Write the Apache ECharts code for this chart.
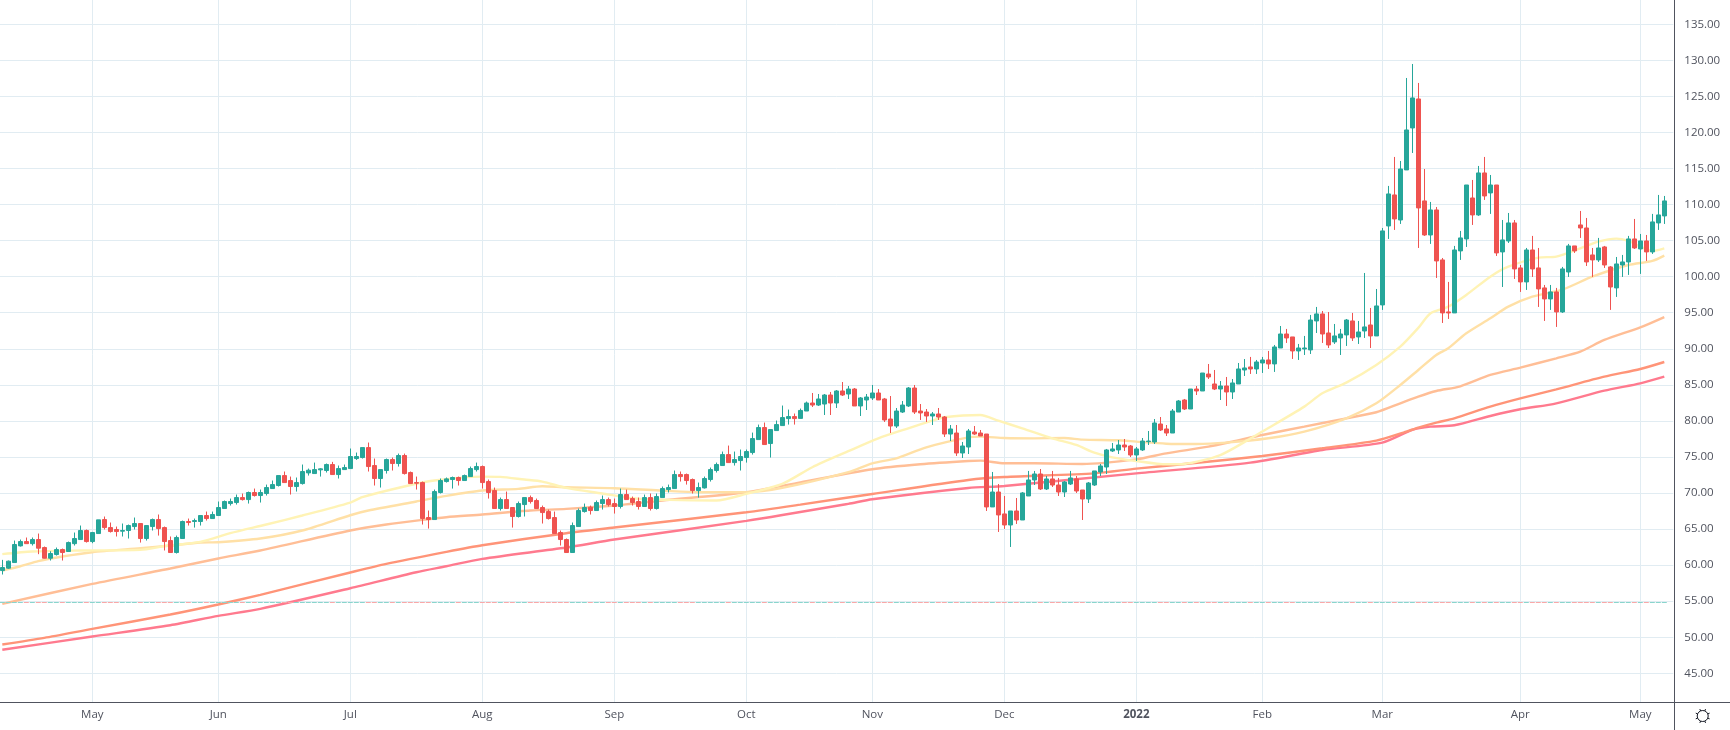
<!DOCTYPE html>
<html><head><meta charset="utf-8">
<style>html,body{margin:0;padding:0;background:#fff;overflow:hidden}#c{position:absolute;left:-6px;top:0;width:1736px;height:730px}</style>
<script src="https://cdn.jsdelivr.net/npm/echarts@6/dist/echarts.min.js"></script>
</head><body><div id="c"></div>
<script>
const opens=[
59.25,59.58,60.36,62.67,63.27,62.98,63.55,62.44,60.96,61.47,
62.16,61.89,62.98,63.55,64.80,63.27,64.38,66.32,65.21,64.94,
64.71,64.80,65.35,65.77,63.69,65.35,66.32,65.21,63.41,61.75,
63.69,66.05,66.05,66.05,66.88,66.46,66.88,67.85,68.54,68.68,
69.37,69.09,70.07,69.65,69.93,70.62,71.04,72.42,71.73,70.90,
71.31,72.79,72.70,73.21,73.12,73.95,72.56,73.25,73.39,74.78,
74.92,76.30,73.81,72.01,73.12,74.64,74.09,75.20,72.84,71.45,
71.45,66.60,66.32,70.07,71.59,71.87,72.15,71.73,72.28,73.25,
73.67,71.59,70.34,67.85,69.09,67.99,66.74,68.40,69.37,68.96,
67.99,67.43,66.60,64.52,63.55,61.75,65.35,67.43,68.03,67.57,
68.54,69.09,68.54,68.13,69.79,69.23,68.82,68.13,69.37,67.85,
69.37,70.48,70.62,72.56,72.56,71.87,70.34,70.71,71.87,73.12,
73.81,75.33,74.22,74.50,74.92,75.61,77.41,79.08,76.86,78.66,
79.35,80.32,80.60,80.35,81.37,82.48,82.20,82.34,83.59,82.48,
84.15,83.73,84.42,82.07,82.90,83.18,83.87,83.04,80.26,79.29,
81.23,82.07,84.56,81.37,81.23,80.68,80.96,80.54,78.18,78.32,
75.55,76.38,78.46,78.32,78.18,68.07,70.14,67.10,65.57,67.51,
66.26,69.59,71.81,72.64,70.56,71.95,71.11,70.14,71.25,71.95,
70.42,69.17,71.11,72.92,73.61,75.83,75.97,76.66,76.52,75.27,
75.97,77.12,77.08,79.57,78.88,78.32,81.23,82.90,81.65,84.42,
84.15,86.50,85.12,84.42,84.84,84.01,85.12,87.06,87.48,87.20,
88.03,88.45,87.90,90.11,92.05,91.64,89.70,89.98,89.84,93.86,
94.83,92.19,90.95,91.50,91.92,93.86,91.64,92.47,93.30,91.78,
96.08,107.03,111.33,107.86,114.80,120.62,124.64,110.50,105.78,109.25,
102.32,95.11,94.97,103.57,105.23,110.91,108.56,114.38,111.61,112.71,
103.43,104.95,107.45,101.21,99.27,103.70,101.21,98.44,96.91,97.88,
95.11,100.65,104.26,107.17,106.75,103.01,102.32,104.12,101.35,98.44,
101.62,102.04,105.23,103.84,104.95,103.43,107.45,108.42];
const closes=[
59.67,60.55,62.86,63.27,62.98,63.55,62.35,60.96,61.61,62.16,
61.75,63.13,63.69,64.80,63.27,64.52,66.28,65.21,64.66,64.66,
64.80,65.49,65.77,63.69,65.49,66.32,65.07,63.27,61.75,63.83,
66.05,65.91,66.18,66.88,66.46,67.02,67.99,68.82,68.82,69.37,
69.09,70.07,69.65,70.07,70.76,71.17,72.42,71.45,70.90,71.45,
72.98,73.16,73.25,73.35,73.95,72.56,73.39,73.53,75.06,75.06,
76.30,73.67,72.01,73.25,74.64,74.09,75.20,72.70,71.31,71.36,
66.46,66.32,70.20,71.73,71.96,72.15,71.73,72.42,73.39,73.67,
71.45,70.07,67.85,69.09,67.85,66.74,68.54,69.37,68.82,67.85,
67.29,66.46,64.38,63.55,61.75,65.49,67.57,67.99,67.57,68.68,
69.09,68.40,68.13,69.79,69.09,68.68,68.13,69.37,67.85,69.51,
70.62,70.76,72.56,72.28,71.73,70.34,70.76,72.01,73.25,73.95,
75.33,74.22,74.64,75.06,75.75,77.55,79.08,76.72,78.80,79.49,
80.46,80.60,80.32,81.45,82.48,82.20,83.04,83.59,82.48,84.15,
83.59,84.42,82.07,83.18,83.31,83.87,82.90,80.13,79.29,81.37,
82.20,84.56,81.23,81.10,80.68,80.96,80.54,78.18,78.88,75.55,
76.52,78.60,78.18,77.91,68.07,70.14,66.96,65.57,67.51,66.26,
70.01,71.81,72.64,70.56,71.95,71.11,70.14,71.53,72.09,70.28,
69.17,71.39,73.06,73.75,75.97,76.11,76.66,76.38,75.27,76.11,
77.21,77.21,79.71,78.74,78.32,81.37,82.76,81.65,84.42,84.15,
86.64,86.09,84.42,84.84,84.01,85.26,87.20,87.34,87.20,88.17,
88.45,87.90,90.25,92.05,91.50,89.70,90.11,90.11,93.99,94.83,
92.05,90.53,91.78,92.05,93.99,91.50,92.33,93.03,91.78,95.94,
106.34,111.47,108.00,114.93,120.34,124.78,109.53,105.78,109.25,102.18,
94.97,94.97,103.70,105.37,112.71,108.56,114.38,111.19,112.71,103.29,
105.09,107.45,101.07,99.27,103.70,101.07,98.30,96.91,97.88,95.11,
101.07,104.26,103.57,106.75,102.04,102.32,103.98,101.62,98.57,101.76,
102.04,105.23,103.98,104.95,103.43,107.59,108.56,110.50];
const lows=[
58.70,59.48,60.36,62.58,62.95,62.72,61.52,60.92,60.64,61.33,
60.64,61.89,62.72,63.55,63.13,63.04,64.38,64.94,64.52,63.97,
63.97,63.69,64.94,63.13,63.41,64.80,64.10,62.03,61.75,61.61,
63.69,65.49,65.21,65.49,66.18,66.46,66.88,67.85,68.26,68.40,
68.96,68.54,69.51,68.68,69.65,70.62,70.90,71.45,69.79,70.20,
71.17,72.42,72.70,72.28,72.84,72.56,72.01,73.21,73.39,74.59,
74.78,72.98,71.04,70.76,72.70,73.12,73.67,72.56,71.31,70.48,
65.63,65.07,66.32,69.93,71.45,70.62,71.04,71.73,72.28,72.98,
70.62,69.23,67.85,67.57,67.85,65.21,66.60,66.74,68.54,67.85,
65.77,66.32,64.38,62.72,61.75,61.75,65.35,67.29,67.02,67.57,
67.71,68.13,67.15,67.85,69.09,68.26,67.71,68.13,67.57,67.71,
69.37,70.07,70.62,71.59,71.17,69.93,69.37,70.62,71.59,72.84,
73.81,74.22,73.81,73.12,74.22,75.33,77.41,76.72,74.92,78.66,
79.35,79.49,79.49,80.35,81.37,81.93,82.07,80.82,80.82,81.79,
83.45,83.04,82.07,80.68,81.51,82.90,82.90,79.85,78.32,79.02,
81.10,81.93,80.96,80.13,79.85,79.43,80.13,77.77,77.21,75.14,
74.86,75.41,78.05,77.91,67.51,68.07,64.60,65.02,62.52,65.71,
66.26,69.59,71.11,70.42,70.42,70.84,69.59,69.45,71.11,70.01,
66.26,68.62,70.98,72.36,72.64,75.69,75.41,75.83,74.99,74.44,
75.83,76.66,76.80,78.60,77.91,78.32,81.23,81.51,81.65,83.59,
84.15,85.81,84.28,82.90,82.07,83.04,85.12,86.23,86.51,86.51,
86.65,87.20,86.79,90.11,90.81,88.59,88.45,89.14,89.28,92.19,
90.81,90.11,90.67,89.14,90.39,91.08,90.67,91.50,90.11,91.78,
95.39,105.23,106.48,107.31,114.80,117.15,103.98,105.65,104.54,99.82,
93.58,94.14,94.97,102.32,104.12,107.17,108.42,110.64,108.70,102.87,
98.57,104.67,99.68,97.88,98.16,99.96,95.80,93.86,95.39,93.03,
94.97,99.96,103.29,105.37,101.48,99.96,102.04,101.21,95.39,97.19,
99.96,100.24,103.84,100.38,102.18,103.15,106.48,107.31];
const highs=[
60.73,60.64,63.41,63.55,63.83,63.83,64.38,62.58,61.93,62.44,
62.30,63.27,64.52,65.49,64.94,64.61,66.28,66.74,65.91,65.35,
65.77,65.63,66.60,65.77,65.49,66.46,67.02,65.35,63.97,64.10,
66.18,66.46,66.46,66.88,67.43,67.43,68.82,68.96,69.23,69.79,
69.93,70.20,70.62,70.48,71.17,71.73,72.42,72.98,72.28,72.15,
73.95,73.39,74.22,73.44,74.09,74.32,73.81,73.95,76.17,75.61,
76.30,77.00,74.78,73.25,74.78,74.92,75.47,75.47,72.98,72.28,
71.59,67.57,70.48,72.01,72.15,72.28,72.28,72.56,73.67,74.22,
73.81,71.87,70.76,69.37,70.20,67.99,68.82,69.37,69.65,69.23,
68.26,67.71,67.43,64.80,63.69,65.91,67.85,68.54,68.26,68.96,
69.65,69.37,69.23,70.62,70.48,69.51,69.37,69.79,69.93,69.93,
70.90,71.17,73.12,72.98,72.70,72.01,71.45,72.28,73.53,74.22,
75.75,76.58,75.75,76.03,76.03,78.38,79.49,79.77,78.80,80.05,
82.13,81.57,81.02,81.71,82.68,83.87,83.73,83.73,84.01,84.28,
85.39,84.84,84.56,83.31,83.73,84.98,84.42,83.18,83.45,81.79,
82.76,84.70,84.98,82.34,81.65,81.23,81.79,80.68,79.43,79.43,
77.08,78.88,79.29,78.74,78.18,72.92,71.25,69.59,67.51,69.31,
70.14,73.06,73.06,73.33,72.36,73.06,72.09,71.67,73.06,72.36,
70.42,71.53,73.06,74.03,76.11,76.94,77.35,77.49,76.66,76.38,
77.63,78.60,80.26,80.54,79.43,81.65,82.90,83.04,84.42,84.84,
86.64,87.89,87.06,85.53,86.09,85.81,88.03,88.58,88.87,88.45,
88.87,89.70,90.53,93.16,92.75,91.64,90.67,91.78,94.69,95.80,
95.24,95.10,93.44,92.75,94.13,94.97,93.86,100.51,95.66,98.29,
106.75,112.58,116.60,116.04,127.55,129.49,126.86,114.93,110.36,109.66,
102.59,99.27,104.26,106.34,112.71,113.41,115.35,116.60,114.10,112.71,
107.86,108.83,107.86,101.62,103.98,105.65,103.98,98.85,98.85,98.44,
101.35,104.54,104.26,109.11,108.14,103.98,105.37,104.26,101.48,102.73,
103.01,105.65,108.00,105.92,105.78,108.70,111.33,111.19];

// Moving averages at their bends: candle index, value
const ma1Idx=[0,5,13,23,27,33,38,44,50,58,60,67,72,80,83,87,90,94,100,105,111,119,124,130,135,141,146,151,155,157,163,166,170,175,179,182,185,189,194,197,203,208,210,217,220,224,229,233,236,238,241,244,248,251,256,259,263,266,269,271,273,275,277];
const ma1Val=[61.52,61.89,62.03,62.12,62.63,63.23,64.43,65.63,66.88,68.68,69.42,70.9,71.73,72.28,72.24,71.87,71.59,70.71,69.93,69.28,69.05,68.96,69.88,71.27,73.58,75.8,77.58,78.97,80.03,80.5,80.82,80.03,78.97,77.58,76.66,75.6,74.95,74.44,73.98,74.03,75.27,77.54,78.52,81.98,83.83,85.31,87.76,90.3,92.9,94.9,95.85,97.47,100,101.39,102.64,102.78,103.93,104.86,105.27,104.95,104.16,103.56,103.93];
const ma2Idx=[0,3,6,10,15,23,28,33,36,43,50,58,61,69,74,80,86,90,94,102,110,116,124,130,141,145,149,154,161,163,167,172,177,180,186,189,194,199,204,211,217,224,229,233,236,239,241,244,248,251,255,260,265,271,275,277];
const ma2Val=[59.25,59.85,60.55,61.19,61.79,62.35,62.72,63.13,63.18,63.69,64.8,66.92,67.57,68.82,69.6,70.34,70.57,70.94,70.8,70.67,70.34,70.11,70.11,70.71,72.89,74.12,74.81,76.34,77.72,77.82,77.63,77.58,77.63,77.4,77.31,77.12,76.84,76.8,76.99,77.59,78.52,80.36,82.44,84.98,87.06,89.14,90.07,92.15,94.23,95.85,97.23,98.2,100,101.62,102.18,102.92];
const ma3Idx=[0,15,28,36,43,58,64,70,74,80,88,94,102,110,124,133,145,153,161,163,167,172,180,189,194,201,205,210,217,224,229,233,236,239,243,248,253,259,263,267,273,277];
const ma3Val=[54.63,57.4,59.53,60.92,62.03,64.8,65.63,66.28,66.65,67.02,67.57,67.8,68.26,68.96,70.11,71.48,73.29,73.98,74.44,74.49,74.12,74.12,74.03,74.67,75.5,76.43,77.13,78.05,79.2,80.36,81.2,82.44,83.37,84.15,84.8,86.37,87.38,88.68,89.6,91.22,92.97,94.4];
const ma4Idx=[0,7,15,28,36,43,58,64,74,80,94,102,124,133,145,161,167,182,189,200,210,220,229,234,236,239,242,248,253,259,267,273,277];
const ma4Val=[49,49.92,51.17,53.15,54.54,55.88,58.98,60.18,61.84,62.76,64.43,65.21,67.34,68.39,69.87,71.81,72.22,72.73,73.38,74.26,75.14,76.2,77.27,78.52,79.07,79.76,80.36,81.98,83.13,84.38,86.13,87.2,88.17];
const ma5Idx=[0,15,28,36,43,58,69,74,80,94,102,124,141,145,161,167,189,208,220,230,235,238,242,248,253,259,267,273,277];
const ma5Val=[48.26,50.1,51.67,52.97,53.94,56.8,59.02,59.85,60.87,62.44,63.55,66.14,68.5,69.13,70.7,70.98,72.73,74.21,75.97,76.99,78.75,79.2,79.39,80.68,81.61,82.44,84.19,85.21,86.13];
const flatLevel=54.85;

const monthIdx=[15,36,58,80,102,124,145,167,189,210,230,253,273];
const monthNames=['May','Jun','Jul','Aug','Sep','Oct','Nov','Dec','2022','Feb','Mar','Apr','May'];
const bandCount=279;
const categories=Array.from({length:bandCount},(_,i)=>String(i));
const pxPerUnit=7.212;
const yBottom=40, yStep=5, yTop=130+60.3/pxPerUnit;
const TEXT='#50535e', GRID='#e1ecf2', UP='#26a69a', DOWN='#ef5350';
const FONT='"Open Sans", sans-serif', FS=11.5;
const P=6; // the canvas starts 6px left of the page edge

const candleData=opens.map((o,i)=>[o,closes[i],lows[i],highs[i]]);
const pairs=(a,b)=>a.map((k,i)=>[k,b[i]]);
const maLine=(idx,val,color)=>({type:'line',data:pairs(idx,val),showSymbol:false,symbol:'none',smooth:0.25,z:2,
  lineStyle:{color,width:2.4},silent:true,animation:false});

const chart=echarts.init(document.getElementById('c'),null,{renderer:'canvas'});
const iconTicks=[];
for(let a=0;a<8;a++){const t=a*Math.PI/4+Math.PI/8;
  iconTicks.push({type:'line',shape:{x1:P+1702.7+5.5*Math.cos(t),y1:716+5.5*Math.sin(t),x2:P+1702.7+7.5*Math.cos(t),y2:716+7.5*Math.sin(t)},style:{stroke:'#131722',lineWidth:1},z:20});}
chart.setOption({
  animation:false,backgroundColor:'#fff',
  grid:{left:P-0.7,top:0,width:1674,height:(yTop-yBottom)*pxPerUnit,containLabel:false},
  xAxis:[
   {type:'category',data:categories,boundaryGap:true,z:0,
    axisLine:{show:false},axisTick:{show:false},axisLabel:{show:false},
    splitLine:{show:true,alignWithLabel:true,interval:(i)=>monthIdx.includes(i),lineStyle:{color:GRID,width:1}}},
   {type:'category',data:categories,boundaryGap:true,z:30,position:'bottom',offset:702-(yTop-yBottom)*pxPerUnit,
    axisLine:{show:false},axisTick:{show:false},splitLine:{show:false},
    axisLabel:{interval:(i)=>monthIdx.includes(i),hideOverlap:false,color:TEXT,fontFamily:FONT,fontSize:FS,margin:7,
      formatter:(v)=>{const m=monthIdx.indexOf(Number(v));const s=m>=0?monthNames[m]:'';return s==='2022'?'{b|2022}':s;},
      rich:{b:{fontWeight:'bold',color:TEXT,fontFamily:FONT,fontSize:FS}}}}
  ],
  yAxis:{type:'value',position:'right',min:yBottom,max:yTop,interval:yStep,
    axisLine:{show:false},axisTick:{show:false},
    axisLabel:{color:TEXT,fontFamily:FONT,fontSize:FS,margin:11,showMinLabel:false,showMaxLabel:false,
      formatter:(v)=>v.toFixed(2)},
    splitLine:{show:true,showMaxLine:false,lineStyle:{color:GRID,width:1}}},
  series:[
    maLine(ma5Idx,ma5Val,'#ff7a8e'),
    maLine(ma4Idx,ma4Val,'#ff9478'),
    maLine(ma3Idx,ma3Val,'#ffbe96'),
    maLine(ma2Idx,ma2Val,'#ffe0a6'),
    maLine(ma1Idx,ma1Val,'#fff3b5'),
    {type:'custom',z:3,silent:true,animation:false,clip:true,
     data:opens.map((o,i)=>[i,flatLevel,closes[i]>=o?1:0]),encode:{x:0,y:1},
     renderItem:(p,api)=>{const c=api.coord([api.value(0),api.value(1)]);const y=Math.floor(c[1])+0.5;
       return {type:'line',shape:{x1:c[0]-2.5,y1:y,x2:c[0]+2.5,y2:y},
         style:{stroke:api.value(2)?'#8ad5cd':'#f9a8a8',lineWidth:1}};}},
    {type:'candlestick',z:5,data:candleData,barWidth:4,silent:true,animation:false,large:false,
     itemStyle:{color:UP,color0:DOWN,borderColor:UP,borderColor0:DOWN,borderWidth:1}}
  ],
  graphic:[
    {type:'rect',shape:{x:0,y:702,width:1736,height:28},style:{fill:'#fff'},z:10},
    {type:'line',shape:{x1:P+1674.5,y1:0,x2:P+1674.5,y2:730},style:{stroke:TEXT,lineWidth:1},z:20},
    {type:'line',shape:{x1:0,y1:702.5,x2:1736,y2:702.5},style:{stroke:TEXT,lineWidth:1},z:20},
    {type:'circle',shape:{cx:P+1702.7,cy:716,r:5.5},style:{fill:'#fff',stroke:'#131722',lineWidth:1},z:20},
    ...iconTicks
  ]
});
</script></body></html>
